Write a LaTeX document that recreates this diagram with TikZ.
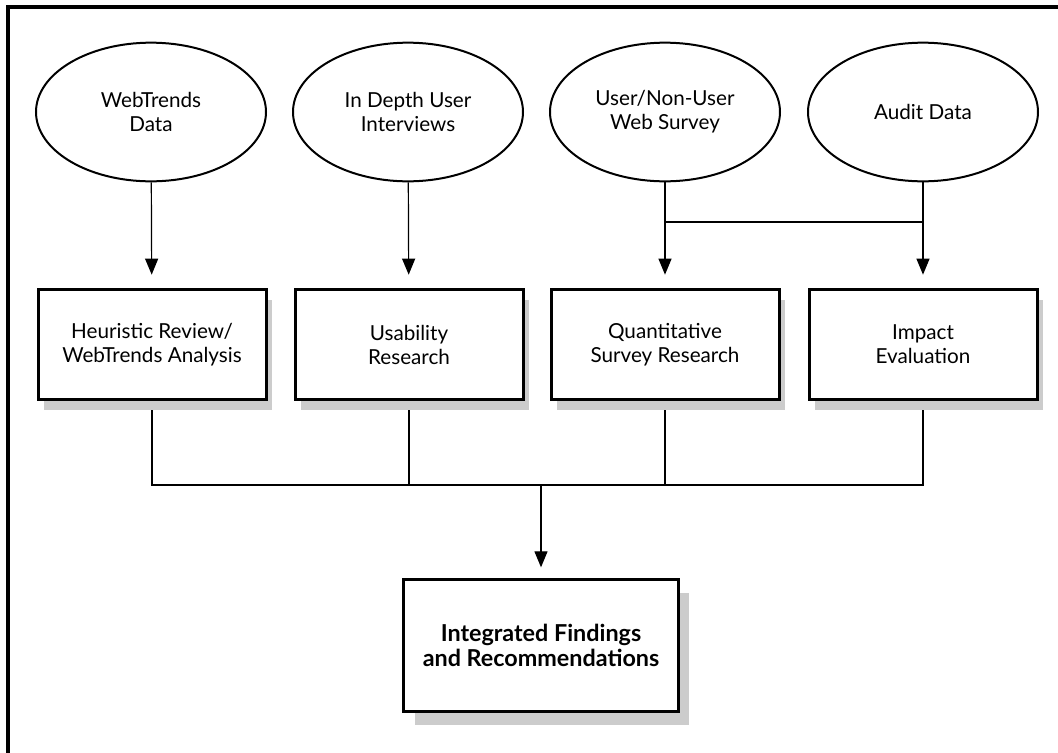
\documentclass[tikz,border=0pt]{standalone}
\usepackage{fontspec}
\setmainfont{Lato}
\usepackage{tikz}
\usetikzlibrary{arrows.meta, shapes.geometric, shadows, backgrounds}
\colorlet{shadowgray}{black!20}

\begin{document}
\begin{tikzpicture}[x=0.75pt, y=-0.75pt,
    source/.style={draw=black, ellipse, line width=1.5pt, minimum width=172.5pt, minimum height=104pt, align=center, font=\fontsize{15.5}{18}\selectfont},
    stage/.style={draw=black, fill=white, line width=2.25pt, minimum width=171pt, minimum height=82.5pt, align=center, font=\fontsize{15.5}{18}\selectfont,
      drop shadow={shadow xshift=4.5pt, shadow yshift=-7.5pt, fill=shadowgray, opacity=1}},
    result/.style={draw=black, fill=white, line width=2.25pt, minimum width=206pt, minimum height=99pt, align=center, font=\fontsize{17.5}{19}\selectfont\bfseries,
      drop shadow={shadow xshift=8.25pt, shadow yshift=-9.75pt, fill=shadowgray, opacity=1}},
    feed/.style={-{Triangle[length=12pt, width=9.75pt]}, line width=0.9pt},
    bus/.style={line width=0.9pt}]
    \useasboundingbox (0,0) rectangle (1058,753);
    \draw[line width=3pt] (8,760) -- (8,7) -- (1065,7);

    \node[source] (webtrends) at (151,112) {WebTrends\\Data};
    \node[source] (interviews) at (408,112) {In Depth User\\Interviews};
    \node[source] (survey) at (665,112) {User/Non-User\\Web Survey};
    \node[source] (audit) at (923,112) {Audit Data};

    \node[stage] (heuristic) at (152,344.5) {Heuristic Review/\\WebTrends Analysis};
    \node[stage] (usability) at (409,344.5) {Usability\\Research};
    \node[stage] (quant) at (665,344.5) {Quantitative\\Survey Research};
    \node[stage] (impact) at (923,344.5) {Impact\\Evaluation};

    \node[result] (findings) at (541,645.5) {Integrated Findings\\and Recommendations};

    \coordinate (topbus) at (0,222);
    \coordinate (lowbus) at (541,485);

    \draw[feed, shorten >=10pt] (webtrends) -- (heuristic);
    \draw[feed, shorten >=10pt] (interviews) -- (usability);
    \draw[feed, shorten >=10pt] (survey) -- (quant);
    \draw[feed, shorten >=10pt] (audit) -- (impact);
    \draw[bus] (topbus -| survey) -- (topbus -| audit);

    \begin{scope}[on background layer]
      \draw[bus] (heuristic.south) -- (heuristic |- lowbus) -- (impact |- lowbus) -- (impact.south);
      \draw[bus] (usability.south) -- (usability |- lowbus);
      \draw[bus] (quant.south) -- (quant |- lowbus);
    \end{scope}
    \draw[feed, shorten >=8pt] (lowbus) -- (findings);
  \end{tikzpicture}
\end{document}
